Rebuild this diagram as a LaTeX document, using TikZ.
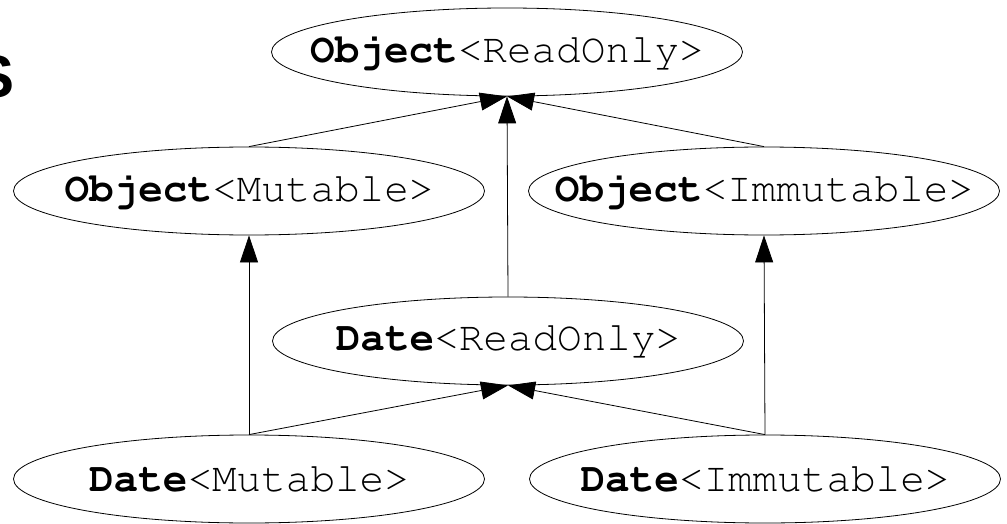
\documentclass[tikz,border=0pt]{standalone}
\usepackage[T1]{fontenc}
\usepackage{fontspec}
\newfontfamily\sansf{Liberation Sans}
\newcommand\courf{\fontencoding{T1}\fontfamily{pcr}\selectfont}
\usetikzlibrary{shapes.geometric,arrows.meta}
\begin{document}
\begin{tikzpicture}[x=1pt,y=-1pt,
  ell/.style={ellipse, draw, line width=0.8pt, minimum width=471pt, minimum height=88pt, inner sep=0pt,
    font=\courf\fontsize{41}{41}\selectfont},
  edge/.style={line width=0.8pt, -{Triangle[length=27pt,width=18pt]}}]
\useasboundingbox (0,0) rectangle (1007,524);
\node[anchor=base east, inner sep=0pt, font=\sansf\bfseries\fontsize{60}{60}\selectfont] (s) at (15,98) {S};
\node[ell] (or) at (507,52) {\makebox[0pt]{\textbf{Object}<ReadOnly>}};
\node[ell] (om) at (249,191) {\makebox[0pt]{\textbf{Object}<Mutable>}};
\node[ell] (oi) at (764,191) {\makebox[0pt]{\textbf{Object}<Immutable>}};
\node[ell] (dr) at (508,341) {\makebox[0pt]{\textbf{Date}<ReadOnly>}};
\node[ell] (dm) at (249,479) {\makebox[0pt]{\textbf{Date}<Mutable>}};
\node[ell] (di) at (765,479) {\makebox[0pt]{\textbf{Date}<Immutable>}};
\draw[edge] (om.north) -- (or.south);
\draw[edge] (dr.north) -- (or.south);
\draw[edge] (oi.north) -- (or.south);
\draw[edge] (dm.north) -- (om.south);
\draw[edge] (di.north) -- (oi.south);
\draw[edge] (dm.north) -- (dr.south);
\draw[edge] (di.north) -- (dr.south);
\end{tikzpicture}
\end{document}
